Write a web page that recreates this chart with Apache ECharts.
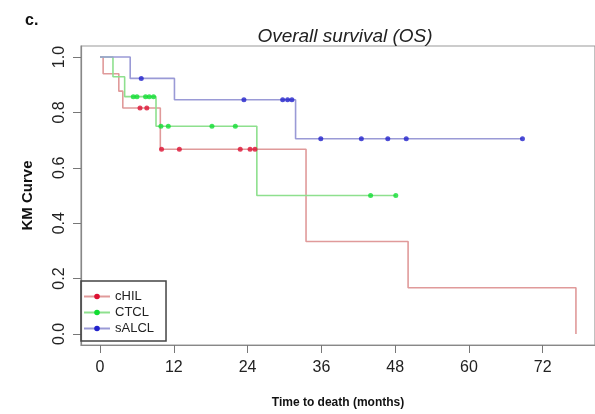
<!DOCTYPE html>
<html>
<head>
<meta charset="utf-8">
<script src="https://cdn.jsdelivr.net/npm/echarts@6/dist/echarts.min.js"></script>
<style>html,body{margin:0;padding:0;background:#fff}#c{width:595px;height:414px}</style>
</head>
<body>
<div id="c"></div>
<script>
// Group names
const groups = ["cHIL", "CTCL", "sALCL"];
// Kaplan-Meier step points (time in months, survival)
const cHIL_times = [0, 0.5, 3.05, 3.7, 9.8, 33.5, 50.1, 77.4];
const cHIL_surv  = [1, 0.94, 0.877, 0.816, 0.667, 0.334, 0.167, 0];
const CTCL_times = [0, 2.1, 4.0, 9.1, 25.5, 48.1];
const CTCL_surv  = [1, 0.929, 0.857, 0.75, 0.5, 0.5];
const sALCL_times = [0, 4.9, 12.1, 31.8, 68.7];
const sALCL_surv  = [1, 0.923, 0.846, 0.705, 0.705];
// Censor marks
const cHIL_censT = [6.5, 7.6, 10.0, 12.9, 22.8, 24.4, 25.2];
const cHIL_censS = [0.816, 0.816, 0.667, 0.667, 0.667, 0.667, 0.667];
const CTCL_censT = [5.4, 6.0, 7.4, 8.0, 8.7, 9.9, 11.1, 18.2, 22.0, 44.0, 48.1];
const CTCL_censS = [0.857, 0.857, 0.857, 0.857, 0.857, 0.75, 0.75, 0.75, 0.75, 0.5, 0.5];
const sALCL_censT = [6.7, 23.4, 29.7, 30.5, 31.2, 35.9, 42.5, 46.8, 49.8, 68.7];
const sALCL_censS = [0.923, 0.846, 0.846, 0.846, 0.846, 0.705, 0.705, 0.705, 0.705, 0.705];
// Tick labels
const xTicks = [0, 12, 24, 36, 48, 60, 72];
const yTicks = [0, 0.2, 0.4, 0.6, 0.8, 1.0];

const zip = (a, b) => a.map((v, i) => [v, b[i]]);
const lineCols = ["#e09a9a", "#8ee08e", "#9a9ad6"];
const dotCols  = ["#dd1133", "#11dd33", "#2222cc"];
const curves = [[cHIL_times, cHIL_surv], [CTCL_times, CTCL_surv], [sALCL_times, sALCL_surv]];
const cens = [[cHIL_censT, cHIL_censS], [CTCL_censT, CTCL_censS], [sALCL_censT, sALCL_censS]];

const series = [];
groups.forEach((g, i) => {
  series.push({
    name: g, type: 'line', step: 'end', data: zip(curves[i][0], curves[i][1]),
    showSymbol: false, symbol: 'circle', symbolSize: 5,
    lineStyle: { color: lineCols[i], width: 1.6 },
    itemStyle: { color: dotCols[i] },
    z: 2 + i, animation: false
  });
});
groups.forEach((g, i) => {
  series.push({
    name: g, type: 'scatter', data: zip(cens[i][0], cens[i][1]),
    symbol: 'circle', symbolSize: 5,
    itemStyle: { color: dotCols[i] }, z: 5, animation: false
  });
});

const chart = echarts.init(document.getElementById('c'), null, { renderer: 'canvas' });
chart.setOption({
  animation: false,
  backgroundColor: '#fff',
  textStyle: { fontFamily: 'Liberation Sans, Arial, sans-serif' },
  title: [
    { text: 'c.', left: 20, top: 8, textStyle: { fontSize: 16, fontWeight: 'bold', color: '#111' } },
    { text: 'Overall survival (OS)', left: 340, textAlign: 'center', top: 22, textStyle: { fontSize: 19, fontStyle: 'italic', fontWeight: 'normal', color: '#222' } }
  ],
  grid: { left: 81, top: 46, width: 528, height: 299, show: true, borderColor: '#999', borderWidth: 1.2 },
  xAxis: {
    type: 'value', min: -3.1, max: 80.5,
    name: 'Time to death (months)', nameLocation: 'middle', nameGap: 52,
    nameTextStyle: { fontSize: 12, fontWeight: 'bold', color: '#111' },
    axisLine: { show: true, onZero: false, lineStyle: { color: '#888', width: 1.2 } },
    axisTick: { show: true, length: 8, customValues: xTicks, lineStyle: { color: '#777' } },
    axisLabel: { customValues: xTicks, fontSize: 16, color: '#222', margin: 15 },
    splitLine: { show: false }
  },
  yAxis: {
    type: 'value', min: -0.04, max: 1.04,
    name: 'KM Curve', nameLocation: 'middle', nameGap: 46, nameRotate: 90,
    nameTextStyle: { fontSize: 15, fontWeight: 'bold', color: '#111' },
    axisLine: { show: true, onZero: false, lineStyle: { color: '#888', width: 1.2 } },
    axisTick: { show: true, length: 8, customValues: yTicks, lineStyle: { color: '#777' } },
    axisLabel: { customValues: yTicks, fontSize: 16, color: '#222', margin: 13, rotate: 90, formatter: v => v.toFixed(1) },
    splitLine: { show: false }
  },
  legend: {
    data: groups, orient: 'vertical', left: 81, top: 281,
    itemWidth: 26, itemHeight: 7, itemGap: 3,
    padding: [9, 12, 6, 2],
    borderColor: '#444', borderWidth: 1.5,
    textStyle: { fontSize: 13, color: '#222' },
    selectedMode: false
  },
  series: series
});
</script>
</body>
</html>
